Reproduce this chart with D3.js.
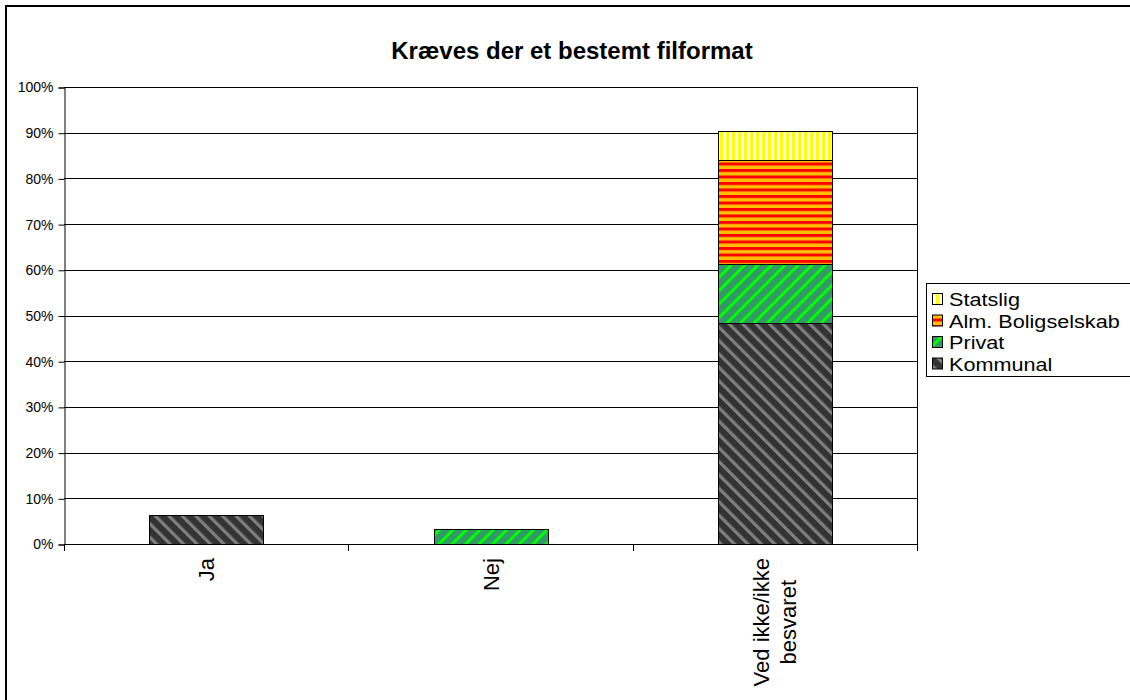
<!DOCTYPE html>
<html>
<head>
<meta charset="utf-8">
<script src="https://cdn.jsdelivr.net/npm/d3@7"></script>
<style>
  html, body { margin: 0; padding: 0; background: #fff; }
  svg { display: block; font-family: "Liberation Sans", sans-serif; }
</style>
</head>
<body>
<svg id="chart" width="1130" height="700"></svg>
<script>
// ---- data ----
const title = "Kræves der et bestemt filformat";
const categories = ["Ja", "Nej", "Ved ikke/ikke besvaret"];
const categoryLines = [["Ja"], ["Nej"], ["Ved ikke/ikke", "besvaret"]];
const seriesNames = ["Kommunal", "Privat", "Alm. Boligselskab", "Statslig"];
const kommunal = [6.3, 0, 48.4];
const privat = [0, 3.2, 12.8];
const almBoligselskab = [0, 0, 22.8];
const statslig = [0, 0, 6.4];
const yTicks = [0, 10, 20, 30, 40, 50, 60, 70, 80, 90, 100];

const seriesValues = [kommunal, privat, almBoligselskab, statslig];
const patternIds = ["pKommunal", "pPrivat", "pAlm", "pStatslig"];
const FONT = "'Liberation Sans', sans-serif";

// ---- layout ----
const svg = d3.select("#chart");
const plot = { left: 64, right: 917, top: 87, bottom: 544 };

// outer chart frame
svg.append("rect").attr("x", 6).attr("y", 6).attr("width", 1200).attr("height", 800)
  .attr("fill", "#fff").attr("stroke", "#000").attr("stroke-width", 2);

// ---- patterns ----
const defs = svg.append("defs");
function stripePattern(id, bg, fg, period, stripeW, rot, horizontal) {
  const p = defs.append("pattern").attr("id", id).attr("patternUnits", "userSpaceOnUse")
    .attr("width", horizontal ? 10 : period).attr("height", horizontal ? period : 10);
  if (rot) p.attr("patternTransform", `rotate(${rot})`);
  p.append("rect").attr("width", horizontal ? 10 : period).attr("height", horizontal ? period : 10).attr("fill", bg);
  if (horizontal) p.append("rect").attr("x", 0).attr("y", 0).attr("width", 10).attr("height", stripeW).attr("fill", fg);
  else p.append("rect").attr("x", 0).attr("y", 0).attr("width", stripeW).attr("height", 10).attr("fill", fg);
}
stripePattern("pKommunal", "#333333", "#7f7f7f", 9.5, 3.2, -45, false);
stripePattern("pPrivat", "#339966", "#00ff00", 9.5, 3, 45, false);
stripePattern("pAlm", "#ffc000", "#ff0000", 6.5, 3, 0, true);
stripePattern("pStatslig", "#ffffff", "#ffff00", 6, 3, 0, false);

// ---- scales ----
const x = d3.scaleBand().domain(categories).range([plot.left, plot.right])
  .paddingInner(0.6).paddingOuter(0.3);
const y = d3.scaleLinear().domain([0, 100]).range([plot.bottom, plot.top]);

// gridlines
svg.append("g").selectAll("line").data(yTicks.filter(d => d > 0)).join("line")
  .attr("x1", plot.left).attr("x2", plot.right)
  .attr("y1", d => Math.round(y(d)) + 0.5).attr("y2", d => Math.round(y(d)) + 0.5)
  .attr("stroke", "#000").attr("stroke-width", 1);
// right border of plot area
svg.append("line").attr("x1", plot.right + 0.5).attr("x2", plot.right + 0.5)
  .attr("y1", plot.top).attr("y2", plot.bottom).attr("stroke", "#000");

// ---- stacked bars ----
const stackData = categories.map((c, i) => {
  const o = { cat: c };
  seriesNames.forEach((s, j) => o[s] = seriesValues[j][i]);
  return o;
});
const stack = d3.stack().keys(seriesNames)(stackData);
const barsG = svg.append("g");
stack.forEach((layer, j) => {
  barsG.append("g").selectAll("rect").data(layer.filter(d => d[1] - d[0] > 0)).join("rect")
    .attr("x", d => Math.round(x(d.data.cat)) + 0.5)
    .attr("width", Math.round(x.bandwidth()))
    .attr("y", d => Math.round(y(d[1])) + 0.5)
    .attr("height", d => Math.round(y(d[0])) - Math.round(y(d[1])))
    .attr("fill", `url(#${patternIds[j]})`)
    .attr("stroke", "#000").attr("stroke-width", 1);
});

// ---- y axis ----
const yAxis = d3.axisLeft(y).tickValues(yTicks).tickFormat(d => d + "%").tickSize(6).tickPadding(5);
const yg = svg.append("g").attr("transform", `translate(${plot.left + 0.5},0.5)`).call(yAxis);
yg.select(".domain").attr("stroke", "#000");
yg.selectAll(".tick line").attr("stroke", "#000");
yg.selectAll(".tick text").attr("font-size", 14).attr("fill", "#000").attr("font-family", FONT);

// ---- x axis ----
svg.append("line").attr("x1", plot.left).attr("x2", plot.right + 1)
  .attr("y1", plot.bottom + 0.5).attr("y2", plot.bottom + 0.5).attr("stroke", "#000");
const boundaries = [plot.left].concat(categories.map(c => x(c) + x.bandwidth() + x.step() * x.paddingInner() / 2));
boundaries[boundaries.length - 1] = plot.right;
svg.append("g").selectAll("line").data(boundaries).join("line")
  .attr("x1", d => Math.round(d) + 0.5).attr("x2", d => Math.round(d) + 0.5)
  .attr("y1", plot.bottom).attr("y2", plot.bottom + 7).attr("stroke", "#000");

// category labels (rotated)
const catFs = 22, lineH = 27;
categories.forEach((c, i) => {
  const cx = x(c) + x.bandwidth() / 2;
  const g = svg.append("g").attr("transform", `translate(${cx},${plot.bottom}) rotate(-90)`);
  const lines = categoryLines[i];
  const t = g.append("text").attr("font-size", catFs).attr("font-family", FONT)
    .attr("text-anchor", "middle").attr("fill", "#000");
  const spans = lines.map((l, k) => t.append("tspan").attr("y", (k - (lines.length - 1) / 2) * lineH + 0.37 * catFs).text(l));
  const maxLen = d3.max(spans, s => s.node().getComputedTextLength());
  spans.forEach(s => s.attr("x", -(14 + maxLen / 2)));
});

// ---- title ----
svg.append("text").attr("x", 572).attr("y", 59).attr("text-anchor", "middle").attr("font-family", FONT)
  .attr("font-size", 24).attr("font-weight", "bold").attr("fill", "#000").text(title);

// ---- legend ----
const lg = svg.append("g");
lg.append("rect").attr("x", 926.5).attr("y", 283.5).attr("width", 210).attr("height", 93)
  .attr("fill", "#fff").attr("stroke", "#000");
const legendOrder = [3, 2, 1, 0];
legendOrder.forEach((j, k) => {
  const cy = 299 + k * 21.5;
  lg.append("rect").attr("x", 932.5).attr("y", cy - 5.5).attr("width", 10).attr("height", 11)
    .attr("fill", `url(#${patternIds[j]})`).attr("stroke", "#000");
  lg.append("text").attr("transform", `translate(949,${cy + 7}) scale(1.17,1)`)
    .attr("font-size", 18.5).attr("font-family", FONT)
    .attr("fill", "#000").text(seriesNames[j]);
});
</script>
</body>
</html>
